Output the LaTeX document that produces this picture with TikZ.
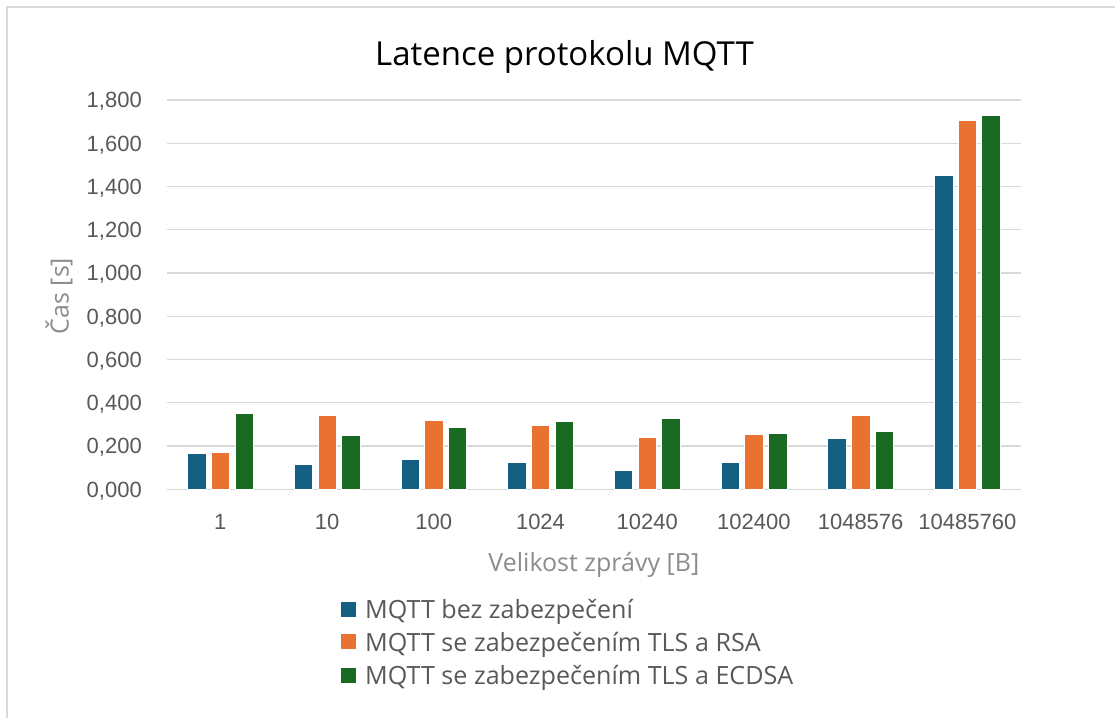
\documentclass[tikz,border=0pt]{standalone}
\usepackage{fontspec}
\setmainfont{Liberation Sans}
\newfontfamily\chartfont{Open Sans}
\definecolor{serA}{HTML}{156082}
\definecolor{serB}{HTML}{E97132}
\definecolor{serC}{HTML}{196B24}
\definecolor{gridc}{HTML}{D9D9D9}
\definecolor{ticktext}{HTML}{595959}
\definecolor{axtitle}{HTML}{8C8C8C}
\tikzset{
  gridline/.style={draw=gridc, line width=1.4pt},
  ytick/.style={anchor=base east, inner sep=0pt, text=ticktext, font=\fontsize{22}{26}\selectfont},
  xtick/.style={anchor=base, inner sep=0pt, text=ticktext, font=\fontsize{22}{26}\selectfont},
  axtitlestyle/.style={anchor=base, inner sep=0pt, text=axtitle, font=\chartfont\fontsize{25}{29}\selectfont},
  legtext/.style={anchor=base west, inner sep=0pt, text=ticktext, font=\chartfont\fontsize{25.1}{29}\selectfont},
  legkey/.style={minimum width=16pt, minimum height=16pt, inner sep=0pt, draw=white, line width=0.6pt},
  barstyle/.style={draw=white, line width=0.6pt}
}
\begin{document}
\begin{tikzpicture}[x=1pt, y=-1pt]
  \useasboundingbox (0,0) rectangle (1115,718);
  \fill[white] (0,0) rectangle (1115,718);
  % chart frame (left and top edges)
  \draw[gridc, line width=2pt] (7,718) -- (7,7) -- (1115,7);

  % title
  \node[anchor=base, inner sep=0pt, font=\chartfont\fontsize{33}{38}\selectfont] (title) at (564.5,65) {Latence protokolu MQTT};

  % horizontal grid and value labels
  \foreach \v/\txt in {0/{0,000},200/{0,200},400/{0,400},600/{0,600},800/{0,800},1000/{1,000},1200/{1,200},1400/{1,400},1600/{1,600},1800/{1,800}} {
    \pgfmathsetmacro\gy{489.3-\v*0.21628}
    \draw[gridline] (167,\gy) -- (1020.7,\gy);
    \node[ytick] (yt\v) at (142,\gy+7.9) {\txt};
  }

  % bars per message size
  \foreach \lab/\a/\b/\c [count=\i from 0] in {
      1/166/171/351,
      10/117/344/250,
      100/139/318/286,
      1024/125/295/316,
      10240/88/241/329,
      102400/127/253/258,
      1048576/236/341/269,
      10485760/1450/1707/1730} {
    \pgfmathsetmacro\cx{167+(\i+0.5)*106.71}
    \fill[serA, barstyle] ({\cx-23.7-9.25},489.3) rectangle ({\cx-23.7+9.25},{489.3-\a*0.21628});
    \fill[serB, barstyle] ({\cx-9.25},489.3) rectangle ({\cx+9.25},{489.3-\b*0.21628});
    \fill[serC, barstyle] ({\cx+23.7-9.25},489.3) rectangle ({\cx+23.7+9.25},{489.3-\c*0.21628});
    \node[xtick] (xt\i) at (\cx,529.3) {\lab};
  }

  % axis titles
  \node[axtitlestyle] (xtitle) at (593.9,571.7) {Velikost zprávy [B]};
  \node[axtitlestyle, rotate=90] (ytitle) at (68.5,296) {Čas [s]};

  % legend
  \node[legkey, fill=serA] (keyA) at (348.7,609) {};
  \node[legkey, fill=serB] (keyB) at (348.7,641.7) {};
  \node[legkey, fill=serC] (keyC) at (348.7,675.3) {};
  \node[legtext] (legA) at (365,618.3) {MQTT bez zabezpečení};
  \node[legtext] (legB) at (365,651) {MQTT se zabezpečením TLS a RSA};
  \node[legtext] (legC) at (365,684.3) {MQTT se zabezpečením TLS a ECDSA};
\end{tikzpicture}
\end{document}
